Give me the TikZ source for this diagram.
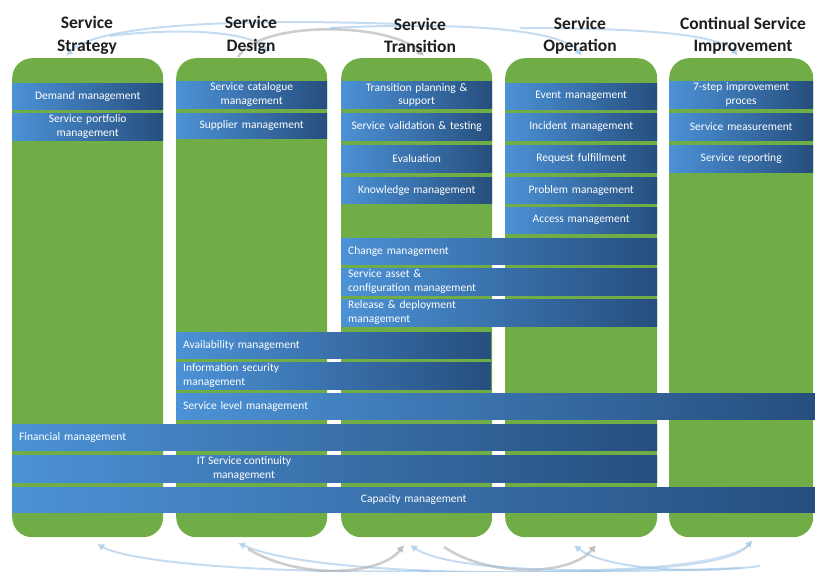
\documentclass[tikz,border=0pt]{standalone}
\usepackage{fontspec}
\setmainfont{Carlito}
\usetikzlibrary{arrows.meta}
\definecolor{colgreen}{RGB}{112,173,71}
\definecolor{barlight}{RGB}{76,146,214}
\definecolor{bardark}{RGB}{38,78,126}
\definecolor{arcblue}{RGB}{150,192,228}
\definecolor{arcgray}{RGB}{165,165,165}
\definecolor{headtext}{RGB}{30,30,30}
\tikzset{
  colbox/.style={fill=colgreen, rounded corners=20pt, draw=none, inner sep=0pt, anchor=north west},
  pbox/.style={left color=barlight, right color=bardark, draw=none, anchor=north west,
    inner ysep=0pt, inner xsep=7pt, text=white, font=\fontsize{11.5}{13.5}\selectfont},
  bartext/.style={text=white, font=\fontsize{11.5}{13.5}\selectfont, align=center, inner sep=0pt},
  head/.style={font=\bfseries\fontsize{17.5}{22.5}\selectfont, align=center, text=headtext},
  arcb/.style={draw=arcblue, line width=2pt, opacity=0.55, -{Latex[length=7pt,width=8pt]}},
  arcg/.style={draw=arcgray, line width=2.6pt, opacity=0.55, -{Latex[length=7pt,width=9pt]}},
  arcthin/.style={draw=arcblue, line width=1.2pt, opacity=0.5}
}
\newcommand\pbar[7]{\pgfmathsetmacro\pbtw{#4-14}%
  \node[pbox, minimum width=#4pt, minimum height=#5pt, text width=\pbtw pt, align=#6] (#1) at (#2,#3) {#7};}
\begin{document}
\begin{tikzpicture}[x=1pt,y=-1pt]
\useasboundingbox (0,0) rectangle (815,572);
% ---------- top arcs ----------
\coordinate (ta1) at (400,24); \coordinate (tb1) at (66,56);
\coordinate (ta2) at (110,36); \coordinate (tb2) at (268,53);
\coordinate (ta3) at (238,57); \coordinate (tb3) at (424,56);
\coordinate (ta4) at (330,28); \coordinate (tb4) at (582,56);
\coordinate (ta5) at (520,28); \coordinate (tb5) at (738,56);
\draw[arcb] (ta1) .. controls (220,18) and (95,26) .. (tb1);
\draw[arcb] (ta2) .. controls (170,28) and (250,30) .. (tb2);
\draw[arcg] (ta3) .. controls (260,20) and (390,22) .. (tb3);
\draw[arcb] (ta4) .. controls (450,22) and (560,28) .. (tb4);
\draw[arcb] (ta5) .. controls (640,28) and (720,34) .. (tb5);
% ---------- bottom arcs ----------
\coordinate (ba1) at (430,571); \coordinate (bb1) at (97,544);
\coordinate (ba2) at (600,571); \coordinate (bb2) at (238,543);
\coordinate (ba3) at (248,549); \coordinate (bb3) at (404,545);
\coordinate (ba4) at (444,547); \coordinate (bb4) at (596,545);
\coordinate (ba5) at (740,568); \coordinate (bb5) at (410,545);
\coordinate (ba6) at (420,572); \coordinate (bb6) at (752,540);
\coordinate (ba7) at (760,566); \coordinate (bb7) at (574,545);
\coordinate (ba8) at (560,570); \coordinate (bb8) at (752,542);
\draw[arcb] (ba1) .. controls (260,574) and (130,562) .. (bb1);
\draw[arcb] (ba2) .. controls (430,576) and (290,566) .. (bb2);
\draw[arcg] (ba3) .. controls (300,580) and (380,576) .. (bb3);
\draw[arcg] (ba4) .. controls (490,578) and (570,576) .. (bb4);
\draw[arcb] (ba5) .. controls (600,574) and (450,572) .. (bb5);
\draw[arcb] (ba6) .. controls (600,574) and (730,570) .. (bb6);
\draw[arcb] (ba7) .. controls (680,576) and (600,566) .. (bb7);
\draw[arcthin] (ba8) .. controls (650,570) and (735,562) .. (bb8);
% ---------- headers ----------
\node[head] (h1) at (87,35.5) {Service\\Strategy};
\node[head] (h2) at (251,35.5) {Service\\Design};
\node[head] (h3) at (420,35.5) {Service\\Transition};
\node[head] (h4) at (580,35.5) {Service\\Operation};
\node[head] (h5) at (743,35.5) {Continual Service\\Improvement};
% ---------- columns ----------
\node[colbox, minimum width=151pt, minimum height=479pt] (c1) at (12,58) {};
\node[colbox, minimum width=151pt, minimum height=479pt] (c2) at (176,58) {};
\node[colbox, minimum width=151pt, minimum height=479pt] (c3) at (341,58) {};
\node[colbox, minimum width=152pt, minimum height=479pt] (c4) at (505,58) {};
\node[colbox, minimum width=144pt, minimum height=479pt] (c5) at (669,58) {};
% ---------- column processes ----------
\pbar{demand}{12}{83}{151}{26}{center}{Demand management}
\pbar{portfolio}{12}{113}{151}{27}{center}{Service portfolio\\management}
\pbar{catalogue}{176}{81}{151}{27}{center}{Service catalogue\\management}
\pbar{supplier}{176}{113}{151}{25}{center}{Supplier management}
\pbar{tps}{341}{81}{151}{27}{center}{Transition planning \&\\support}
\pbar{svt}{341}{113}{151}{27}{center}{Service validation \& testing}
\pbar{evaluation}{341}{145}{151}{27}{center}{Evaluation}
\pbar{knowledge}{341}{177}{151}{26}{center}{Knowledge management}
\pbar{event}{505}{83}{152}{26}{center}{Event management}
\pbar{incident}{505}{113}{152}{27}{center}{Incident management}
\pbar{request}{505}{145}{152}{27}{center}{Request fulfillment}
\pbar{problem}{505}{177}{152}{26}{center}{Problem management}
\pbar{access}{505}{207}{152}{26}{center}{Access management}
\pbar{sevenstep}{669}{81}{144}{27}{center}{7-step improvement\\proces}
\pbar{measure}{669}{113}{144}{27}{center}{Service measurement}
\pbar{reporting}{669}{145}{144}{27}{center}{Service reporting}
% ---------- spanning processes ----------
\pbar{change}{341}{238}{316}{26}{left}{Change management}
\pbar{sacm}{341}{268}{316}{27}{left}{Service asset \&\\configuration management}
\pbar{release}{341}{299}{316}{27}{left}{Release \& deployment\\management}
\pbar{avail}{176}{332}{315}{26}{left}{Availability management}
\pbar{infosec}{176}{362}{315}{27}{left}{Information security\\management}
\pbar{slm}{176}{393}{639}{26}{left}{Service level management}
\pbar{financial}{12}{424}{645}{26}{left}{Financial management}
\pbar{itscm}{12}{455}{645}{27}{left}{}
\node[bartext] (itscmtext) at (244,468.5) {IT Service continuity\\management};
\pbar{capacity}{12}{487}{803}{25}{center}{Capacity management}
\end{tikzpicture}
\end{document}
